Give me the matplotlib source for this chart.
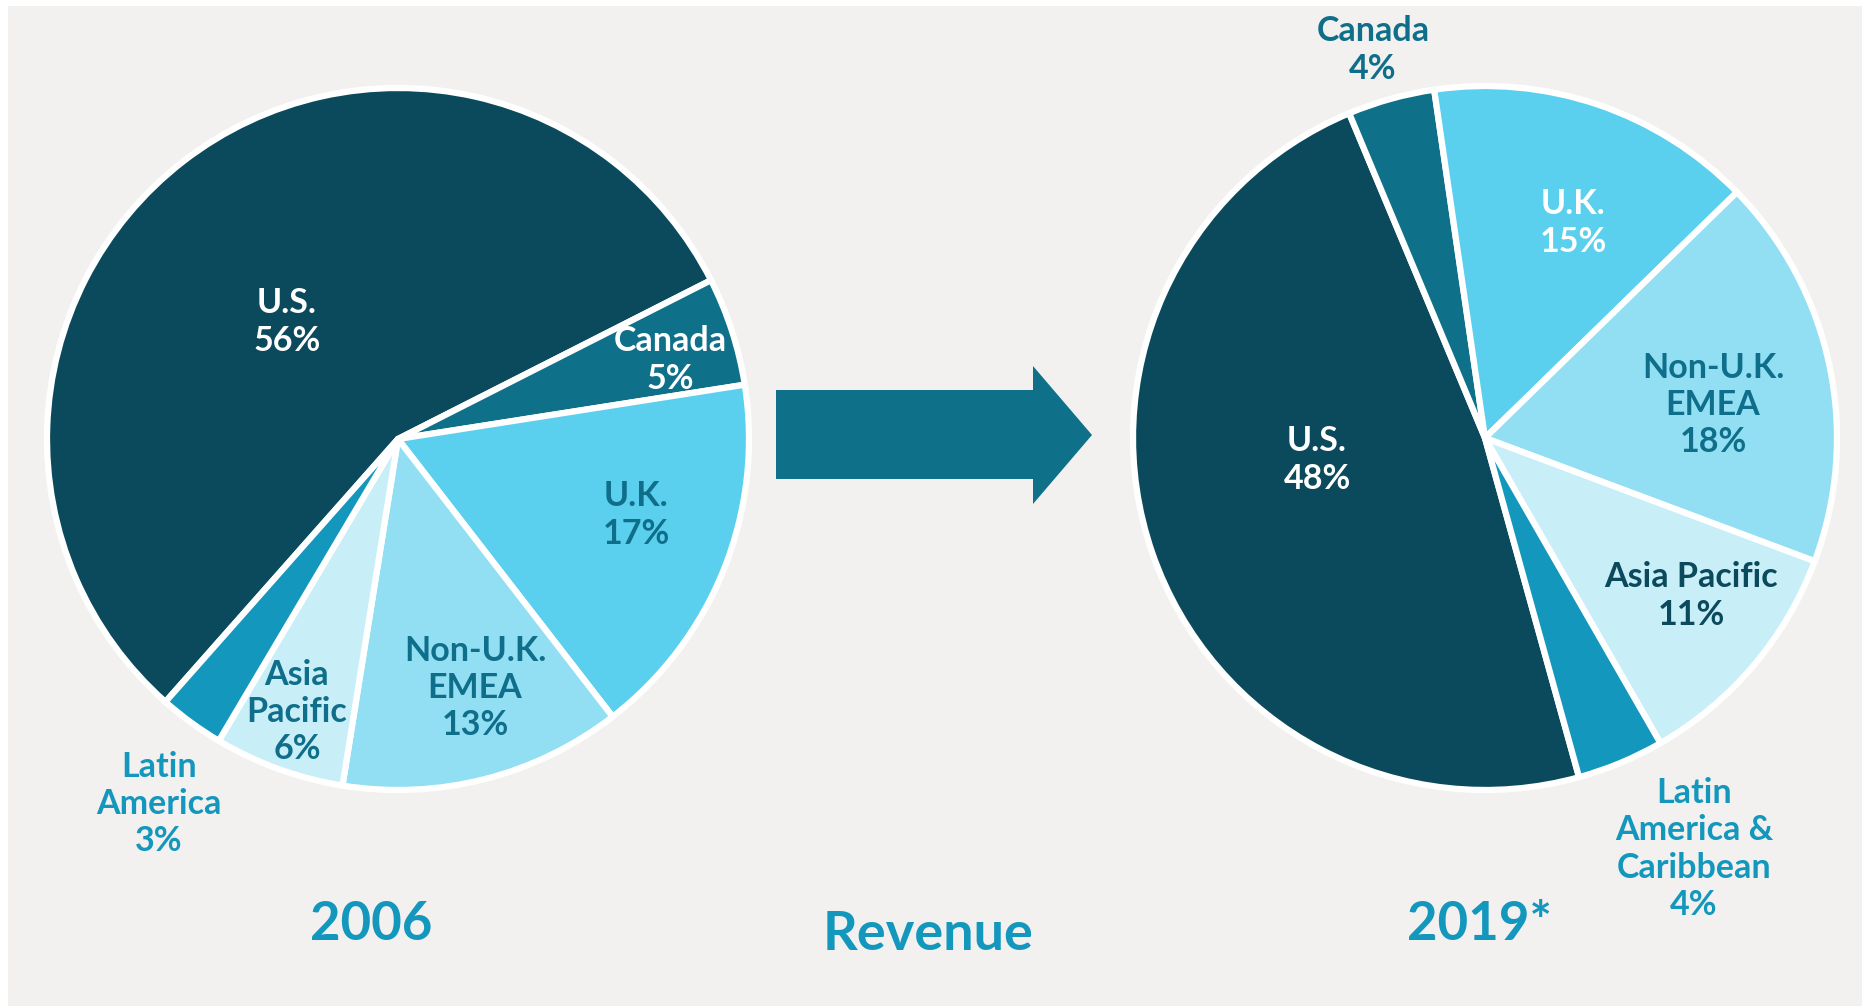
import matplotlib
matplotlib.use("Agg")
import matplotlib.pyplot as plt
from matplotlib.patches import Rectangle, Polygon

# ---- data ----
regions_2006 = ["U.S.", "Canada", "U.K.", "Non-U.K.\nEMEA", "Asia\nPacific", "Latin\nAmerica"]
share_2006 = [56, 5, 17, 13, 6, 3]
regions_2019 = ["U.S.", "Canada", "U.K.", "Non-U.K.\nEMEA", "Asia Pacific", "Latin\nAmerica &\nCaribbean"]
share_2019 = [48, 4, 15, 18, 11, 4]
titles = ["2006", "2019*"]
center_title = "Revenue"

# ---- styles ----
slice_colors = ["#0B4A5C", "#0F7089", "#5BCFEE", "#92DFF4", "#C8EEF8", "#1497BD"]
bg = "#F2F1F0"
FONT = "Lato"
W, H = 1870, 1006

# label layout: (x, y in pixel coords from top, text colour)
layout_2006 = [(287, 322, "white"), (670, 360, "white"), (636, 515, "#0F6F8A"),
               (475, 688, "#0F6F8A"), (297, 712, "#0F6F8A"), (159, 804, "#1497BD")]
layout_2019 = [(1317, 460, "white"), (1373, 50, "#0F6F8A"), (1573, 223, "white"),
               (1713, 405, "#0F6F8A"), (1691, 596, "#0B4A5C"), (1694, 849, "#1497BD")]

fig = plt.figure(figsize=(W / 100, H / 100), dpi=100)
fig.patch.set_facecolor("white")
ax = fig.add_axes([0, 0, 1, 1])
ax.set_xlim(0, W)
ax.set_ylim(0, H)
ax.set_aspect("equal")
ax.axis("off")

ax.add_patch(Rectangle((8, 0), W - 16, H - 6, facecolor=bg, edgecolor="none", zorder=0))

def draw_pie(values, labels, layout, cx, cy, r, start):
    ax.pie(values, colors=slice_colors, startangle=start, counterclock=False,
           center=(cx, H - cy), radius=r, frame=True,
           wedgeprops=dict(edgecolor="white", linewidth=4.5, joinstyle="round"))
    for lab, v, (x, y, c) in zip(labels, values, layout):
        ax.text(x, H - y, f"{lab}\n{v}%", ha="center", va="center", color=c,
                fontsize=24.5, fontweight="bold", family=FONT, linespacing=1.2, zorder=5)

draw_pie(share_2006, regions_2006, layout_2006, 398, 439, 351, 228.5)
draw_pie(share_2019, regions_2019, layout_2019, 1485, 438, 352, 285.5)

ax.set_xlim(0, W)
ax.set_ylim(0, H)
ax.axis("off")

# arrow
arrow_pts = [(776, 390), (1033, 390), (1033, 366), (1092, 435), (1033, 504), (1033, 479), (776, 479)]
ax.add_patch(Polygon([(x, H - y) for x, y in arrow_pts], closed=True,
                     facecolor="#0F7089", edgecolor="none", zorder=3))

for t, x in zip(titles, [371, 1479]):
    ax.text(x, H - 925, t, ha="center", va="center", color="#1497BD",
            fontsize=38, fontweight="bold", family=FONT)
ax.text(928, H - 934, center_title, ha="center", va="center", color="#1497BD",
        fontsize=39, fontweight="bold", family=FONT)

fig.savefig("out.png", dpi=100, facecolor="white")
